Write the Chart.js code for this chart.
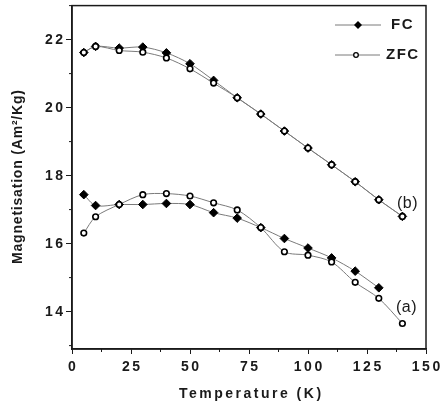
<!DOCTYPE html>
<html>
<head>
<title>Magnetisation vs Temperature</title>
<script src="https://cdn.jsdelivr.net/npm/chart.js@4.4.1/dist/chart.umd.min.js"></script>
<style>
body {margin: 0; background: #fff;}
#wrap {width: 443px; height: 414px;}
</style>
</head>
<body>
<div id="wrap"><canvas id="myChart"></canvas></div>
<script>
// temperatures (K)
var temps = [5, 10, 20, 30, 40, 50, 60, 70, 80, 90, 100, 110, 120, 130, 140];
// curve (b)
var fcB  = [21.62, 21.80, 21.75, 21.78, 21.61, 21.29, 20.80, 20.29, 19.81, 19.31, 18.81, 18.32, 17.82, 17.29, 16.80];
var zfcB = [21.62, 21.80, 21.68, 21.63, 21.46, 21.14, 20.72, 20.29, 19.81, 19.31, 18.81, 18.32, 17.82, 17.29, 16.80];
// curve (a)
var fcA  = [17.44, 17.12, 17.15, 17.15, 17.18, 17.15, 16.91, 16.75, 16.47, 16.15, 15.87, 15.58, 15.19, 14.70];
var zfcA = [16.31, 16.79, 17.15, 17.44, 17.47, 17.40, 17.20, 16.99, 16.47, 15.76, 15.66, 15.46, 14.86, 14.39, 13.65];

var xTicks = [0, 25, 50, 75, 100, 125, 150];
var yTicks = [14, 16, 18, 20, 22];
var xMinor = [12.5, 37.5, 62.5, 87.5, 112.5, 137.5];
var yMinor = [13, 15, 17, 19, 21, 23];

var xTitle = 'Temperature (K)';
var yTitle = 'Magnetisation (Am\u00b2/Kg)';

function pts(xs, ys) {
  var out = [];
  for (var i = 0; i < ys.length; i++) out.push({x: xs[i], y: ys[i]});
  return out;
}

var ink = '#1a1a1a';
var lineCol = '#7a7a7a';
var family = 'Liberation Sans, Arial, sans-serif';

function fcSet(data) {
  return {label: 'FC', data: data, borderColor: lineCol, borderWidth: 1, tension: 0.3,
    pointStyle: 'rectRot', pointRadius: 4.3, pointBackgroundColor: '#000', pointBorderColor: '#000',
    pointBorderWidth: 1, order: 2};
}
function zfcSet(data) {
  return {label: 'ZFC', data: data, borderColor: lineCol, borderWidth: 1, tension: 0.3,
    pointStyle: 'circle', pointRadius: 2.8, pointBackgroundColor: '#fff', pointBorderColor: '#000',
    pointBorderWidth: 1.6, order: 1};
}

// canvas text with letter spacing (set after font, as font may reset it)
function spaced(ctx, font, sp, txt, x, y, align) {
  ctx.font = font;
  ctx.letterSpacing = sp + 'px';
  ctx.textAlign = align;
  var dx = align === 'center' ? sp / 2 : (align === 'right' ? sp : 0);
  ctx.fillText(txt, x + dx, y);
}

var extras = {
  id: 'extras',
  afterDraw: function(chart) {
    var ctx = chart.ctx, a = chart.chartArea;
    var xs = chart.scales.x, ys = chart.scales.y;
    ctx.save();
    ctx.strokeStyle = ink;
    ctx.lineWidth = 1.5;
    ctx.strokeRect(a.left, a.top, a.right - a.left, a.bottom - a.top);
    ctx.lineWidth = 1;
    ctx.beginPath();
    xMinor.forEach(function(v) {
      var p = xs.getPixelForValue(v);
      ctx.moveTo(p, a.bottom); ctx.lineTo(p, a.bottom + 3);
    });
    yMinor.forEach(function(v) {
      var p = ys.getPixelForValue(v);
      ctx.moveTo(a.left, p); ctx.lineTo(a.left - 3, p);
    });
    ctx.stroke();

    var bold14 = 'bold 14px ' + family;
    ctx.fillStyle = ink;
    ctx.textBaseline = 'middle';

    // tick labels
    xTicks.forEach(function(v) {
      spaced(ctx, bold14, 2.5, String(v), xs.getPixelForValue(v), a.bottom + 18, 'center');
    });
    yTicks.forEach(function(v) {
      spaced(ctx, bold14, 2.5, String(v), a.left - 9, ys.getPixelForValue(v) + 1, 'right');
    });

    // axis titles
    spaced(ctx, bold14, 2.5, xTitle, (a.left + a.right) / 2 + 1, 394, 'center');
    ctx.save();
    ctx.translate(18, 177);
    ctx.rotate(-Math.PI / 2);
    spaced(ctx, bold14, 0.8, yTitle, 0, 0, 'center');
    ctx.restore();

    // legend
    ctx.strokeStyle = lineCol;
    ctx.beginPath();
    ctx.moveTo(335, 25); ctx.lineTo(381, 25);
    ctx.moveTo(335, 55); ctx.lineTo(380, 55);
    ctx.stroke();
    ctx.fillStyle = '#000';
    ctx.beginPath();
    ctx.moveTo(358, 21); ctx.lineTo(362, 25); ctx.lineTo(358, 29); ctx.lineTo(354, 25); ctx.closePath();
    ctx.fill();
    ctx.fillStyle = '#fff'; ctx.strokeStyle = '#000'; ctx.lineWidth = 1.3;
    ctx.beginPath(); ctx.arc(356, 55, 2.3, 0, Math.PI * 2); ctx.fill(); ctx.stroke();

    ctx.fillStyle = ink;
    spaced(ctx, 'bold 15px ' + family, 1.5, 'FC', 391, 25, 'left');
    spaced(ctx, 'bold 15px ' + family, 1.5, 'ZFC', 386, 55, 'left');
    spaced(ctx, '16px ' + family, 0.5, '(b)', 397, 204, 'left');
    spaced(ctx, '16px ' + family, 0.5, '(a)', 396, 308, 'left');
    ctx.restore();
  }
};

var ctx = document.getElementById('myChart').getContext('2d');
var chart = new Chart(ctx, {
  type: 'line',
  data: {
    datasets: [
      fcSet(pts(temps, fcB)), zfcSet(pts(temps, zfcB)),
      fcSet(pts(temps, fcA)), zfcSet(pts(temps, zfcA))
    ]
  },
  options: {
    responsive: true,
    maintainAspectRatio: false,
    animation: false,
    layout: {padding: {top: 5, right: 17, left: 0, bottom: 0}},
    plugins: {legend: {display: false}, tooltip: {enabled: false}},
    scales: {
      x: {
        type: 'linear', min: 0, max: 150,
        afterBuildTicks: function(s) { s.ticks = xTicks.map(function(v) { return {value: v}; }); },
        afterFit: function(s) { s.height = 65; },
        ticks: {display: false},
        grid: {drawOnChartArea: false, tickLength: 5, color: ink, tickWidth: 1},
        border: {display: true, color: ink, width: 1.5}
      },
      y: {
        min: 12.9, max: 23,
        afterBuildTicks: function(s) { s.ticks = yTicks.map(function(v) { return {value: v}; }); },
        afterFit: function(s) { s.width = 72; },
        ticks: {display: false},
        grid: {drawOnChartArea: false, tickLength: 6, color: ink, tickWidth: 1},
        border: {display: true, color: ink, width: 1.5}
      }
    }
  },
  plugins: [extras]
});
</script>
</body>
</html>
